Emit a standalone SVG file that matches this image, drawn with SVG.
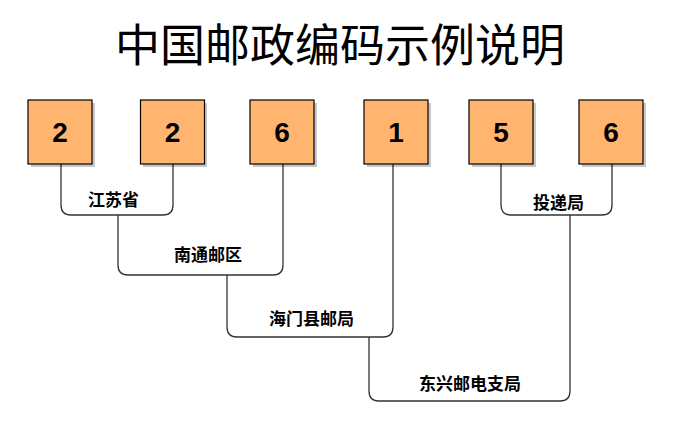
<svg xmlns="http://www.w3.org/2000/svg" width="691" height="429" viewBox="0 0 691 429">
<style>
.box{fill:#FFB570;stroke:#000;stroke-width:1.2}
.sh{fill:#000;opacity:0.22}
.num{font-family:"Liberation Sans",Arial,sans-serif;font-weight:bold;font-size:28px;text-anchor:middle;fill:#000}
.lbl{font-family:"Liberation Sans","Noto Sans CJK SC",sans-serif;font-weight:bold;font-size:17px;text-anchor:middle;fill:#000}
.ttl{font-family:"Liberation Sans","Noto Sans CJK SC",sans-serif;font-size:45px;text-anchor:middle;fill:#000}
.ln{fill:none;stroke:#333;stroke-width:1.3}
</style>
<rect width="691" height="429" fill="#fff"/>
<text class="ttl" x="340" y="62">中国邮政编码示例说明</text>
<g id="connectors">
<path class="ln" d="M61,164 V205 Q61,215 71,215 H163 Q173,215 173,205 V164"/>
<path class="ln" d="M118,215 V265 Q118,275 128,275 H273 Q283,275 283,265 V164"/>
<path class="ln" d="M227,275 V327 Q227,337 237,337 H383 Q393,337 393,327 V164"/>
<path class="ln" d="M369,337 V391 Q369,401 379,401 H560 Q570,401 570,391 V215"/>
<path class="ln" d="M501,164 V205 Q501,215 511,215 H602 Q612,215 612,205 V164"/>
</g>
<g id="node1"><rect class="sh" x="31" y="103" width="64" height="64"/><rect class="box" x="28" y="100" width="64" height="64"/><text class="num" x="60" y="142">2</text></g>
<g id="node2"><rect class="sh" x="143" y="103" width="64" height="64"/><rect class="box" x="140.5" y="100" width="64" height="64"/><text class="num" x="172.5" y="142">2</text></g>
<g id="node3"><rect class="sh" x="253" y="103" width="64" height="64"/><rect class="box" x="250" y="100" width="64" height="64"/><text class="num" x="282" y="142">6</text></g>
<g id="node4"><rect class="sh" x="367" y="103" width="64" height="64"/><rect class="box" x="364" y="100" width="64" height="64"/><text class="num" x="396" y="142">1</text></g>
<g id="node5"><rect class="sh" x="472" y="103" width="64" height="64"/><rect class="box" x="469" y="100" width="64" height="64"/><text class="num" x="501" y="142">5</text></g>
<g id="node6"><rect class="sh" x="582" y="103" width="64" height="64"/><rect class="box" x="579" y="100" width="64" height="64"/><text class="num" x="611" y="142">6</text></g>
<g id="label1"><text class="lbl" x="113.5" y="206">江苏省</text></g>
<g id="label2"><text class="lbl" x="208" y="261">南通邮区</text></g>
<g id="label3"><text class="lbl" x="311.5" y="325">海门县邮局</text></g>
<g id="label4"><text class="lbl" x="470" y="390">东兴邮电支局</text></g>
<g id="label5"><text class="lbl" x="558.5" y="209">投递局</text></g>
</svg>
